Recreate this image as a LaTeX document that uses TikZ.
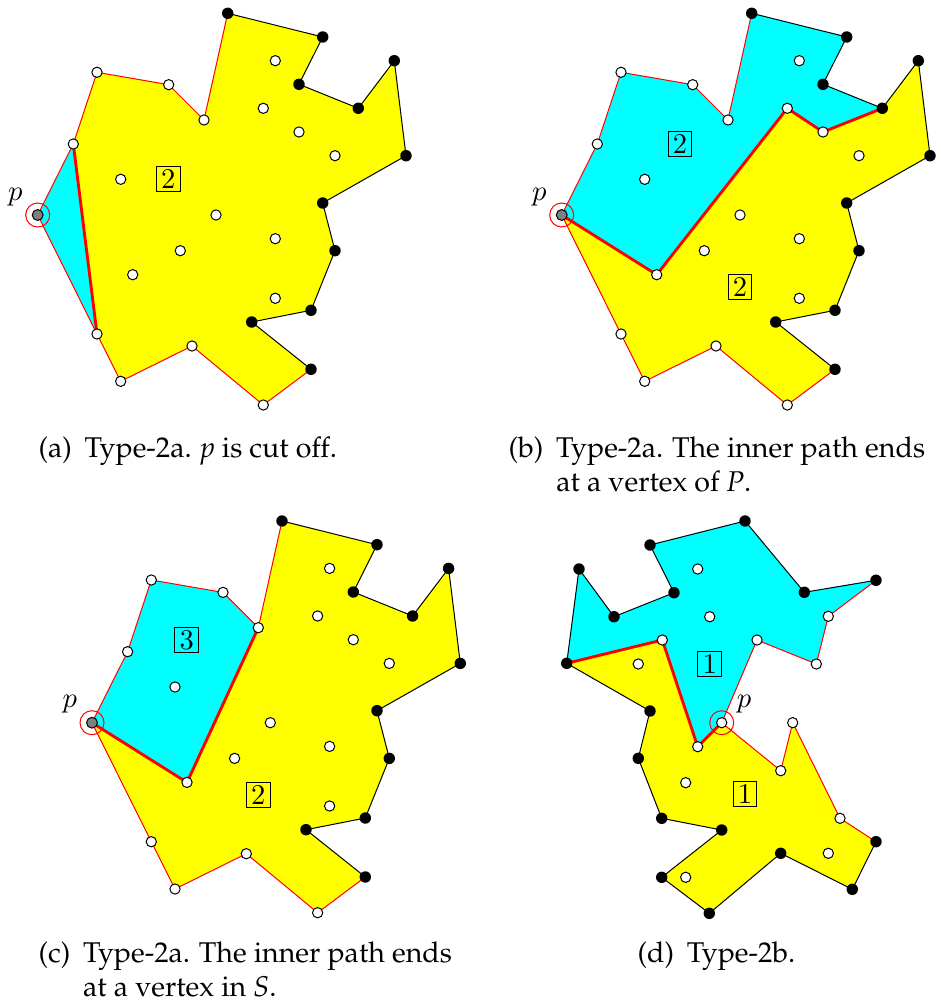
\documentclass[tikz,border=0pt]{standalone}
\usepackage[T1,TU]{fontenc}
\usepackage{tikz}
\usetikzlibrary{positioning}
\definecolor{regcyan}{RGB}{0,255,255}
\definecolor{regyellow}{RGB}{255,255,0}
\newcommand{\capfont}{\fontencoding{T1}\fontfamily{ppl}\selectfont}

% the polygon P and the points of S used in (a)-(c)
\newcommand{\setpts}{%
  \coordinate (v1) at (37.7,215);   \coordinate (v2) at (73.3,144);
  \coordinate (v3) at (97,72.3);    \coordinate (v4) at (168.7,84.7);
  \coordinate (v5) at (204,120);    \coordinate (v6) at (227.7,13.3);
  \coordinate (v7) at (322.7,37);   \coordinate (v8) at (299,84.3);
  \coordinate (v9) at (358.3,108.3);\coordinate (v10) at (394.3,60.7);
  \coordinate (v11) at (406,155.7); \coordinate (v12) at (322.7,203);
  \coordinate (v13) at (335,250.7); \coordinate (v14) at (311,310.3);
  \coordinate (v15) at (251.7,322); \coordinate (v16) at (311,369.3);
  \coordinate (v17) at (263.3,405); \coordinate (v18) at (192,346);
  \coordinate (v19) at (120.7,381.3);\coordinate (v20) at (97,334);
  \coordinate (s1) at (275.3,60.7); \coordinate (s2) at (263.3,108.3);
  \coordinate (s3) at (299,132);    \coordinate (s4) at (335,155.7);
  \coordinate (s5) at (120.7,179.3);\coordinate (s6) at (216,215);
  \coordinate (s7) at (275.3,238.7);\coordinate (s8) at (180.3,250.7);
  \coordinate (s9) at (132.7,274.7);\coordinate (s10) at (275.3,298.3);
}
\newcommand{\fillrim}{%
  \fill[regyellow] (v1) -- (v2) -- (v3) -- (v4) -- (v5) -- (v6) -- (v7) -- (v8)
    -- (v9) -- (v10) -- (v11) -- (v12) -- (v13) -- (v14) -- (v15) -- (v16)
    -- (v17) -- (v18) -- (v19) -- (v20) -- cycle;
}
\newcommand{\drawrim}{%
  \draw[redge] (v16) -- (v17) -- (v18) -- (v19) -- (v20) -- (v1) -- (v2)
    -- (v3) -- (v4) -- (v5) -- (v6);
  \draw[bedge] (v6) -- (v7) -- (v8) -- (v9) -- (v10) -- (v11) -- (v12)
    -- (v13) -- (v14) -- (v15) -- (v16);
}
\newcommand{\drawdots}{%
  \foreach \i in {2,3,4,5,17,18,19,20} \node[wpt] (dv\i) at (v\i) {};
  \foreach \i in {6,...,16} \node[bpt] (dv\i) at (v\i) {};
  \foreach \i in {1,...,10} \node[wpt] (ds\i) at (s\i) {};
  \node[pring] (pc) at (v1) {};
  \node[pdot] (pd) at (v1) {};
  \node[plbl,above left=0pt and 2pt of pc] (plab) {$p$};
}

\tikzset{
  wpt/.style={circle,draw,fill=white,line width=0.35pt,inner sep=0pt,minimum size=3.6pt},
  bpt/.style={circle,fill=black,inner sep=0pt,minimum size=4pt},
  pdot/.style={circle,draw,fill=gray,line width=0.35pt,inner sep=0pt,minimum size=3.8pt},
  pring/.style={circle,draw=red,line width=0.35pt,inner sep=0pt,minimum size=8.4pt},
  plbl/.style={inner sep=0pt},
  redge/.style={red,line width=0.35pt,line join=round},
  bedge/.style={black,line width=0.35pt,line join=round},
  cut/.style={red,line width=1pt,line join=round},
  lbl/.style={draw,line width=0.35pt,inner xsep=1.6pt,inner ysep=1pt},
  subcap/.style={anchor=base west,inner sep=0pt,font=\capfont},
}

\begin{document}
\begin{tikzpicture}[x=0.35pt,y=-0.35pt]
\useasboundingbox (0,0) rectangle (940,1005);

% (a) p is cut off
\begin{scope}[name prefix=a-]
\setpts
\fillrim
\fill[regcyan] (v1) -- (v2) -- (v20) -- cycle;
\drawrim
\draw[cut] (v2) -- (v20);
\drawdots
\node[lbl] (lab) at (168.3,179.3) {2};
\end{scope}

% (b) path ends at a vertex of P
\begin{scope}[shift={(524,0)},name prefix=b-]
\setpts
\fillrim
\fill[regcyan] (v1) -- (v2) -- (v3) -- (v4) -- (v5) -- (v6) -- (v7) -- (v8)
  -- (v9) -- (s3) -- (s2) -- (s9) -- cycle;
\drawrim
\draw[cut] (v1) -- (s9) -- (s2) -- (s3) -- (v9);
\drawdots
\node[lbl] (lab1) at (156,144) {2};
\node[lbl] (lab2) at (216,286.7) {2};
\end{scope}

% (c) path ends at a vertex in S
\begin{scope}[shift={(54.3,507.7)},name prefix=c-]
\setpts
\fillrim
\fill[regcyan] (v1) -- (v2) -- (v3) -- (v4) -- (v5) -- (s9) -- cycle;
\drawrim
\draw[cut] (v1) -- (s9) -- (v5);
\drawdots
\node[lbl] (lab1) at (132.4,132.3) {3};
\node[lbl] (lab2) at (204,287.3) {2};
\end{scope}

% (d) type 2b
\begin{scope}[name prefix=d-]
\coordinate (w1) at (566.7,663.3);  \coordinate (w2) at (579,569);
\coordinate (w3) at (614,616.7);    \coordinate (w4) at (674,592.7);
\coordinate (w5) at (650,545);      \coordinate (w6) at (745,521);
\coordinate (w7) at (804.3,592.3);  \coordinate (w8) at (876,580.3);
\coordinate (w9) at (828.3,616.3);  \coordinate (w10) at (816.3,664);
\coordinate (w11) at (757,640);     \coordinate (w12) at (721.7,722.7);
\coordinate (w13) at (780.7,770.7); \coordinate (w14) at (792.7,722.7);
\coordinate (w15) at (840,818.3);   \coordinate (w16) at (876,841.7);
\coordinate (w17) at (852.3,889.3); \coordinate (w18) at (780.7,853.3);
\coordinate (w19) at (709.3,913.3); \coordinate (w20) at (661.7,877.3);
\coordinate (w21) at (721.7,830);   \coordinate (w22) at (661.7,818.3);
\coordinate (w23) at (638.3,758.3); \coordinate (w24) at (650,711);
\coordinate (t1) at (697.7,569);    \coordinate (t2) at (709.7,616.7);
\coordinate (t3) at (638.3,664);    \coordinate (t4) at (685.7,782.7);
\coordinate (t5) at (828.3,853.3);  \coordinate (t6) at (685.7,877.3);
\coordinate (t7) at (662.3,640);    \coordinate (t8) at (697.7,746.7);
\fill[regyellow] (w1) -- (t7) -- (t8) -- (w12) -- (w13) -- (w14) -- (w15)
  -- (w16) -- (w17) -- (w18) -- (w19) -- (w20) -- (w21) -- (w22) -- (w23)
  -- (w24) -- cycle;
\fill[regcyan] (w1) -- (w2) -- (w3) -- (w4) -- (w5) -- (w6) -- (w7) -- (w8)
  -- (w9) -- (w10) -- (w11) -- (w12) -- (t8) -- (t7) -- cycle;
\draw[bedge] (w8) -- (w7) -- (w6) -- (w5) -- (w4) -- (w3) -- (w2) -- (w1)
  -- (w24) -- (w23) -- (w22) -- (w21) -- (w20) -- (w19) -- (w18) -- (w17)
  -- (w16);
\draw[redge] (w8) -- (w9) -- (w10) -- (w11) -- (w12) -- (w13) -- (w14)
  -- (w15) -- (w16);
\draw[cut] (w1) -- (t7) -- (t8) -- (w12);
\foreach \i in {1,2,3,4,5,6,7,8,16,17,18,19,20,21,22,23,24}
  \node[bpt] (dw\i) at (w\i) {};
\foreach \i in {9,10,11,13,14,15} \node[wpt] (dw\i) at (w\i) {};
\foreach \i in {1,...,8} \node[wpt] (dt\i) at (t\i) {};
\node[pring] (pc) at (w12) {};
\node[wpt] (pd) at (w12) {};
\node[plbl,above right=0pt and 2pt of pc] (plab) {$p$};
\node[lbl] (lab1) at (709.7,664) {1};
\node[lbl] (lab2) at (745,794.3) {1};
\end{scope}

% sub-captions
\node[subcap] (capa) at (38,457) {(a)\hspace{4.5pt}Type-2a. \textit{p} is cut off.};
\node[subcap] (capb) at (508,457) {\begin{tabular}[t]{@{}l@{\hspace{4.5pt}}l@{}}
  (b) & Type-2a. The inner path ends\\ & at a vertex of \textit{P}.\end{tabular}};
\node[subcap] (capc) at (38,962) {\begin{tabular}[t]{@{}l@{\hspace{4.5pt}}l@{}}
  (c) & Type-2a. The inner path ends\\ & at a vertex in \textit{S}.\end{tabular}};
\node[subcap] (capd) at (637,962) {(d)\hspace{4.5pt}Type-2b.};
\end{tikzpicture}
\end{document}
